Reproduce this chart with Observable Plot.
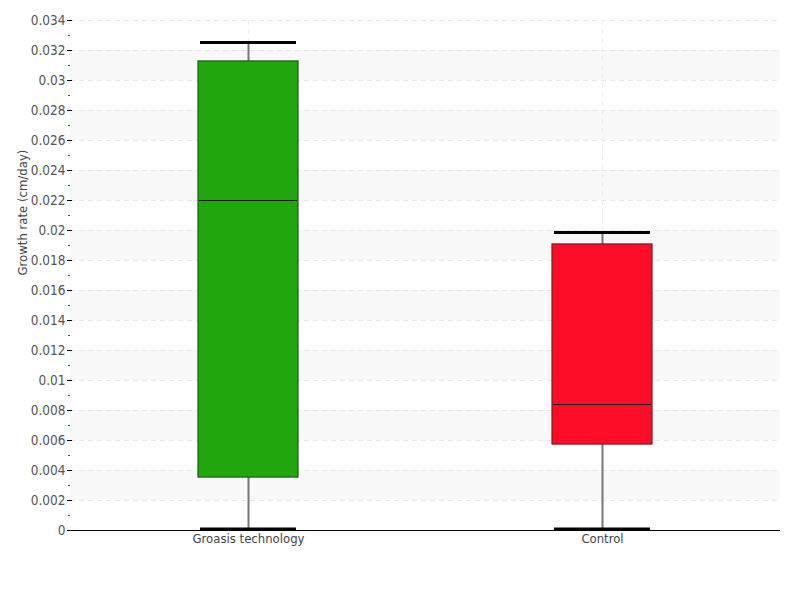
<!DOCTYPE html>
<html><head><meta charset="utf-8">
<script src="https://cdn.jsdelivr.net/npm/d3@7"></script>
<script src="https://cdn.jsdelivr.net/npm/@observablehq/plot@0.6"></script>
<style>
html,body{margin:0;padding:0;background:#fff;}
#chart svg{font-family:"DejaVu Sans Condensed","Liberation Sans Narrow",sans-serif;}
</style>
</head><body><div id="chart"></div>
<script>
const categories = ["Groasis technology", "Control"];
const minVals = [0.0001, 0.0001];
const q1Vals = [0.00353, 0.00573];
const medianVals = [0.0220, 0.0084];
const q3Vals = [0.03127, 0.01907];
const maxVals = [0.03253, 0.01987];
const fills = ["#22a60e", "#ff0d28"];
const strokes = ["#1d5a14", "#7a1a24"];
const majorTicks = d3.range(0, 0.0341, 0.002);
const minorTicks = d3.range(0.001, 0.034, 0.002);
const bandStarts = [0.002, 0.006, 0.010, 0.014, 0.018, 0.022, 0.026, 0.030];

const boxes = categories.map((c, i) => ({
  cat: c, min: minVals[i], q1: q1Vals[i], med: medianVals[i], q3: q3Vals[i], max: maxVals[i],
  fill: fills[i], stroke: strokes[i]
}));
const bands = bandStarts.map(s => ({y1: s, y2: s + 0.002}));
const fmt = d => String(+d.toFixed(3));

const chart = Plot.plot({
  width: 800, height: 600,
  marginLeft: 70, marginRight: 20, marginTop: 20, marginBottom: 70,
  x: {type: "band", domain: categories, paddingInner: 0.7183, paddingOuter: 0.3592, label: null},
  y: {domain: [0, 0.034], label: null},
  style: {fontSize: "13px", color: "#444"},
  marks: [
    Plot.rect(bands, {y1: "y1", y2: "y2", fill: "#f8f8f8"}),
    Plot.ruleY(majorTicks, {stroke: "#e6e6e6", strokeDasharray: "5,4"}),
    Plot.ruleX(categories, {x: d => d, stroke: "#ececec", strokeDasharray: "5,4"}),
    Plot.ruleX(boxes, {x: "cat", y1: "min", y2: "max", stroke: "#777", strokeWidth: 2}),
    Plot.barY(boxes, {x: "cat", y1: "q1", y2: "q3", fill: "fill", stroke: "stroke", strokeWidth: 1.2}),
    Plot.tickY(boxes, {x: "cat", y: "med", stroke: "#111", strokeWidth: 1, insetLeft: 1, insetRight: 1}),
    Plot.tickY(boxes, {x: "cat", y: "max", stroke: "#000", strokeWidth: 3, insetLeft: 2, insetRight: 2}),
    Plot.tickY(boxes, {x: "cat", y: "min", stroke: "#000", strokeWidth: 3, insetLeft: 2, insetRight: 2}),
    Plot.axisY(minorTicks, {tickSize: 2, stroke: "#e00000", strokeOpacity: 1, tickFormat: () => ""}),
    Plot.axisY(majorTicks, {tickSize: 3, tickPadding: 2, tickFormat: fmt, stroke: "#000", fill: "#555", fontSize: 13.5}),
    Plot.axisY(majorTicks, {tickSize: -2, tickFormat: () => "", stroke: "#000"}),
    Plot.axisX({tickSize: 0, tickPadding: 3, fill: "#444", fontSize: 13}),
    Plot.ruleX([0], {x: () => null, frameAnchor: "left", stroke: "#000"}),
    Plot.ruleY([0], {stroke: "#000"}),
    Plot.text(["Growth rate (cm/day)"], {frameAnchor: "left", rotate: -90, dx: -48, fill: "#444", fontSize: 13, text: d => d})
  ]
});
document.getElementById("chart").appendChild(chart);
</script>
</body></html>
